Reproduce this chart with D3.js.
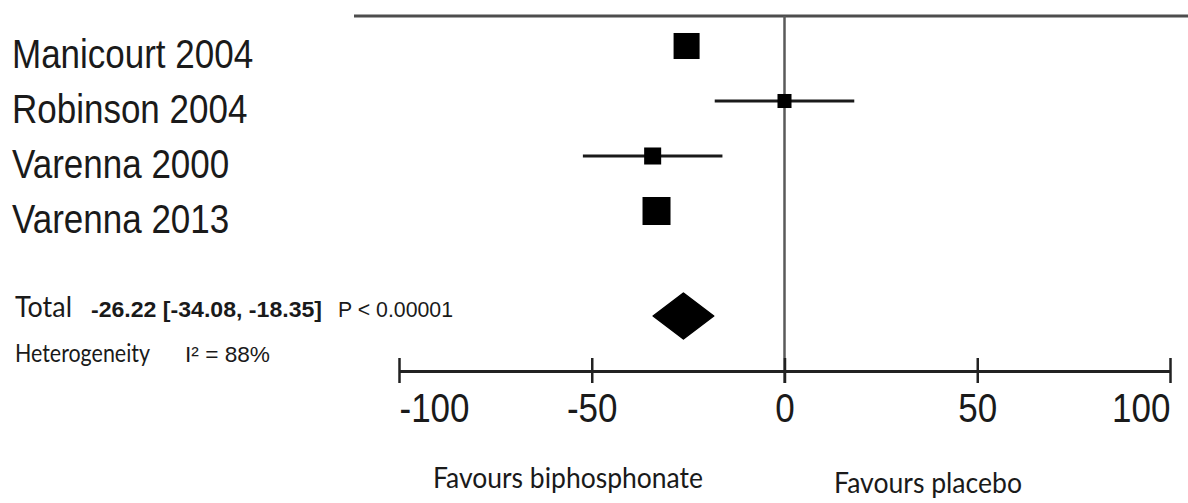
<!DOCTYPE html>
<html>
<head>
<meta charset="utf-8">
<script src="https://cdn.jsdelivr.net/npm/d3@7"></script>
<style>
  body { margin: 0; background: #fff; }
  svg { display: block; }
</style>
</head>
<body>
<svg></svg>
<script>
// study data
const studies = ["Manicourt 2004", "Robinson 2004", "Varenna 2000", "Varenna 2013"];
const means = [-25.4, 0, -34.2, -33.2];
const lower = [-28.5, -18.1, -52.3, -36.5];
const upper = [-22.5, 18.1, -16.1, -30.0];
const weights = [34.8, 10.1, 14.9, 40.3];

const totalMean = -26.22;
const totalLower = -34.08;
const totalUpper = -18.35;
const totalText = "-26.22 [-34.08, -18.35]";
const pText = "P < 0.00001";
const hetText = "I\u00b2 = 88%";

const tickValues = [-100, -50, 0, 50, 100];
const favourLeft = "Favours biphosphonate";
const favourRight = "Favours placebo";

const width = 1188;
const height = 503;
const axisY = 371;
const stretch = 1.157;

const svg = d3.select("svg").attr("width", width).attr("height", height);

const x = d3.scaleLinear().domain([-100, 100]).range([399, 1170]);
const y = d3.scalePoint().domain(studies).range([46, 211]);
const size = d3.scaleSqrt().domain([0, d3.max(weights)]).range([0, 28]);

const rows = studies.map((s, i) => ({
  name: s, mean: means[i], lo: lower[i], hi: upper[i], w: weights[i]
}));

// top border line
svg.append("line")
  .attr("x1", 354).attr("x2", width)
  .attr("y1", 16).attr("y2", 16)
  .attr("stroke", "#4d4d4d").attr("stroke-width", 3);

// line of no effect
svg.append("line")
  .attr("x1", x(0)).attr("x2", x(0))
  .attr("y1", 16).attr("y2", axisY + 12)
  .attr("stroke", "#5a5a5a").attr("stroke-width", 2.5);

// study labels (Arial-like, slightly tall)
svg.selectAll(".study-label")
  .data(rows)
  .enter()
  .append("text")
  .attr("class", "study-label")
  .attr("transform", (d) => "translate(12," + (y(d.name) + 21.7) + ") scale(1," + stretch + ")")
  .attr("font-family", "Liberation Sans, Arial, sans-serif")
  .attr("font-size", 35)
  .attr("fill", "#1a1a1a")
  .text((d) => d.name);

// confidence intervals
svg.selectAll(".ci")
  .data(rows)
  .enter()
  .append("line")
  .attr("class", "ci")
  .attr("x1", (d) => x(d.lo))
  .attr("x2", (d) => x(d.hi))
  .attr("y1", (d) => y(d.name))
  .attr("y2", (d) => y(d.name))
  .attr("stroke", "#1a1a1a")
  .attr("stroke-width", 3);

// weight squares
svg.selectAll(".box")
  .data(rows)
  .enter()
  .append("rect")
  .attr("class", "box")
  .attr("x", (d) => x(d.mean) - size(d.w) / 2)
  .attr("y", (d) => y(d.name) - size(d.w) / 2)
  .attr("width", (d) => size(d.w))
  .attr("height", (d) => size(d.w))
  .attr("fill", "#000");

// pooled diamond
const dy = 316;
const dh = 23;
svg.append("path")
  .attr("d", "M" + x(totalLower) + "," + dy +
    "L" + x(totalMean) + "," + (dy - dh) +
    "L" + x(totalUpper) + "," + dy +
    "L" + x(totalMean) + "," + (dy + dh) + "Z")
  .attr("fill", "#000")
  .attr("stroke", "#000")
  .attr("stroke-width", 1.5)
  .attr("stroke-linejoin", "round");

// total + heterogeneity texts
function addText(str, tx, ty, opts) {
  const t = svg.append("text")
    .attr("transform", "translate(" + tx + "," + ty + ") scale(1," + (opts.sy || 1) + ")")
    .attr("font-family", opts.family)
    .attr("font-size", opts.size)
    .attr("font-weight", opts.weight || "normal")
    .attr("fill", "#1a1a1a")
    .text(str);
  if (opts.len) t.attr("textLength", opts.len).attr("lengthAdjust", "spacingAndGlyphs");
  return t;
}

const calibri = "Lato, Carlito, Calibri, sans-serif";
const arial = "Liberation Sans, Arial, sans-serif";

addText("Total", 15, 317, { family: calibri, size: 25, sy: 1.16, len: 57 });
addText(totalText, 91, 317, { family: arial, size: 20, sy: 1.1, weight: "bold", len: 231 });
addText(pText, 338, 317, { family: arial, size: 20, sy: 1.1, len: 115 });
addText("Heterogeneity", 15, 362, { family: calibri, size: 21, sy: 1.16, len: 135 });
addText(hetText, 185, 362, { family: arial, size: 20, sy: 1.1, len: 85 });

// x axis, hyphen minus like the original
const xAxis = d3.axisBottom(x).tickValues(tickValues).tickSizeOuter(0).tickFormat((d) => String(d));
const gx = svg.append("g")
  .attr("transform", "translate(0," + axisY + ")")
  .call(xAxis);

gx.select(".domain").attr("stroke", "#222").attr("stroke-width", 3);
gx.selectAll(".tick line")
  .attr("y1", -13).attr("y2", 12)
  .attr("stroke", "#222").attr("stroke-width", 2.5);
gx.selectAll(".tick text")
  .attr("y", null).attr("dy", null)
  .attr("transform", "translate(0,51) scale(1," + stretch + ")")
  .attr("font-family", arial)
  .attr("font-size", 35)
  .attr("fill", "#1a1a1a")
  .attr("text-anchor", (d, i) => i === 0 ? "start" : (i === tickValues.length - 1 ? "end" : "middle"));

// favours labels
addText(favourLeft, 433, 488, { family: calibri, size: 26, sy: 1.12, len: 270 });
addText(favourRight, 834, 493, { family: calibri, size: 26, sy: 1.12, len: 188 });
</script>
</body>
</html>
